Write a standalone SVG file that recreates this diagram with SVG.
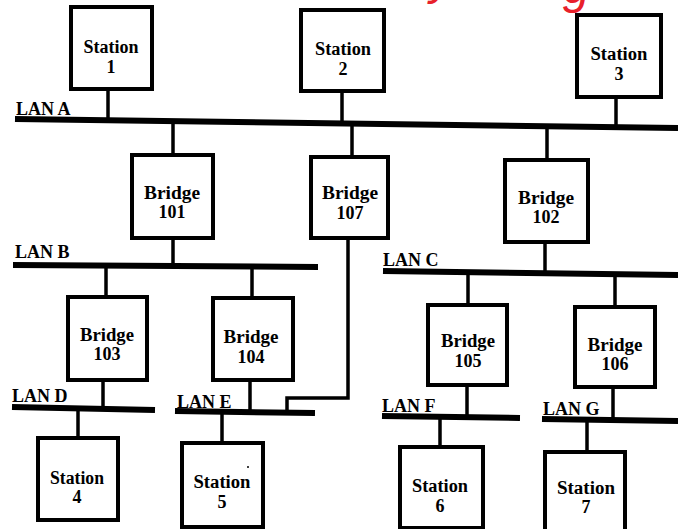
<svg xmlns="http://www.w3.org/2000/svg" width="678" height="529" viewBox="0 0 678 529">
<style>
.box{fill:#fff;stroke:#000;stroke-width:4}
.t{font-family:"Liberation Serif",serif;font-weight:bold;font-size:18px;fill:#000;text-anchor:middle}
.lan{font-family:"Liberation Serif",serif;font-weight:bold;font-size:18px;fill:#000}
.bus{stroke:#000;stroke-width:6;fill:none}
.c{stroke:#000;stroke-width:3.5;fill:none}
.red{font-family:"Liberation Sans",sans-serif;font-style:italic;font-size:48px;fill:#e8202a}
</style>
<rect width="678" height="529" fill="#fff"/>
<text class="red" x="430" y="-6">y</text>
<text class="red" x="563" y="3">g</text>

<g id="connectors">
<line class="c" x1="108" y1="89" x2="108" y2="119"/>
<line class="c" x1="342" y1="91" x2="342" y2="122"/>
<line class="c" x1="616" y1="97" x2="616" y2="127"/>
<line class="c" x1="173" y1="121" x2="173" y2="155"/>
<line class="c" x1="173" y1="238" x2="173" y2="266"/>
<line class="c" x1="352" y1="122" x2="352" y2="157"/>
<polyline class="c" points="348,238 348,398 287,398 287,412"/>
<line class="c" x1="547" y1="125" x2="547" y2="160"/>
<line class="c" x1="545" y1="242" x2="545" y2="272"/>
<line class="c" x1="106" y1="266" x2="106" y2="297"/>
<line class="c" x1="103" y1="380" x2="103" y2="408"/>
<line class="c" x1="252" y1="267" x2="252" y2="298"/>
<line class="c" x1="250" y1="380" x2="250" y2="412"/>
<line class="c" x1="78" y1="410" x2="78" y2="438"/>
<line class="c" x1="222" y1="413" x2="222" y2="443"/>
<line class="c" x1="468" y1="273" x2="468" y2="305"/>
<line class="c" x1="467" y1="385" x2="467" y2="417"/>
<line class="c" x1="615" y1="274" x2="615" y2="307"/>
<line class="c" x1="613" y1="387" x2="613" y2="420"/>
<line class="c" x1="440" y1="418" x2="440" y2="447"/>
<line class="c" x1="587" y1="421" x2="587" y2="452"/>
</g>

<g id="lanA"><line class="bus" x1="15" y1="119" x2="678" y2="128"/><text class="lan" x="16" y="115">LAN A</text></g>
<g id="lanB"><line class="bus" x1="13" y1="265" x2="318" y2="267"/><text class="lan" x="15" y="258">LAN B</text></g>
<g id="lanC"><line class="bus" x1="383" y1="271" x2="678" y2="275"/><text class="lan" x="383" y="266">LAN C</text></g>
<g id="lanD"><line class="bus" x1="12" y1="407" x2="155" y2="410" stroke-width="5"/><text class="lan" x="12" y="402">LAN D</text></g>
<g id="lanE"><line class="bus" x1="175" y1="411" x2="315" y2="413" stroke-width="5"/><text class="lan" x="177" y="408">LAN E</text></g>
<g id="lanF"><line class="bus" x1="382" y1="416" x2="520" y2="418"/><text class="lan" x="382" y="412">LAN F</text></g>
<g id="lanG"><line class="bus" x1="542" y1="419" x2="678" y2="421"/><text class="lan" x="543" y="415">LAN G</text></g>

<g id="station1"><rect class="box" x="71" y="7" width="81" height="82"/><text class="t" x="111" y="53" textLength="55" lengthAdjust="spacingAndGlyphs">Station</text><text class="t" x="111" y="73">1</text></g>
<g id="station2"><rect class="box" x="301" y="10" width="83" height="81"/><text class="t" x="343" y="55" textLength="56" lengthAdjust="spacingAndGlyphs">Station</text><text class="t" x="343" y="75">2</text></g>
<g id="station3"><rect class="box" x="577" y="15" width="84" height="82"/><text class="t" x="619" y="60" textLength="57" lengthAdjust="spacingAndGlyphs">Station</text><text class="t" x="619" y="80">3</text></g>

<g id="bridge101"><rect class="box" x="132" y="155" width="81" height="83"/><text class="t" x="172" y="199" textLength="56" lengthAdjust="spacingAndGlyphs">Bridge</text><text class="t" x="172" y="218">101</text></g>
<g id="bridge107"><rect class="box" x="311" y="157" width="77" height="81"/><text class="t" x="350" y="199" textLength="56" lengthAdjust="spacingAndGlyphs">Bridge</text><text class="t" x="350" y="219">107</text></g>
<g id="bridge102"><rect class="box" x="505" y="160" width="83" height="82"/><text class="t" x="546" y="204" textLength="56" lengthAdjust="spacingAndGlyphs">Bridge</text><text class="t" x="546" y="223">102</text></g>

<g id="bridge103"><rect class="box" x="68" y="297" width="79" height="83"/><text class="t" x="107" y="341" textLength="54" lengthAdjust="spacingAndGlyphs">Bridge</text><text class="t" x="107" y="360">103</text></g>
<g id="bridge104"><rect class="box" x="213" y="298" width="80" height="82"/><text class="t" x="251" y="343" textLength="55" lengthAdjust="spacingAndGlyphs">Bridge</text><text class="t" x="251" y="363">104</text></g>
<g id="bridge105"><rect class="box" x="428" y="305" width="79" height="80"/><text class="t" x="468" y="347" textLength="54" lengthAdjust="spacingAndGlyphs">Bridge</text><text class="t" x="468" y="367">105</text></g>
<g id="bridge106"><rect class="box" x="575" y="307" width="80" height="80"/><text class="t" x="615" y="351" textLength="55" lengthAdjust="spacingAndGlyphs">Bridge</text><text class="t" x="615" y="370">106</text></g>

<g id="station4"><rect class="box" x="38" y="438" width="80" height="82"/><text class="t" x="77" y="484" textLength="54" lengthAdjust="spacingAndGlyphs">Station</text><text class="t" x="77" y="503">4</text></g>
<g id="station5"><rect class="box" x="182" y="443" width="81" height="84"/><text class="t" x="222" y="488" textLength="57" lengthAdjust="spacingAndGlyphs">Station</text><text class="t" x="222" y="508">5</text><circle cx="248" cy="467" r="1" fill="#000"/></g>
<g id="station6"><rect class="box" x="400" y="447" width="83" height="81"/><text class="t" x="440" y="492" textLength="56" lengthAdjust="spacingAndGlyphs">Station</text><text class="t" x="440" y="512">6</text></g>
<g id="station7"><rect class="box" x="545" y="452" width="80" height="80"/><text class="t" x="586" y="494" textLength="58" lengthAdjust="spacingAndGlyphs">Station</text><text class="t" x="586" y="513">7</text></g>
</svg>
